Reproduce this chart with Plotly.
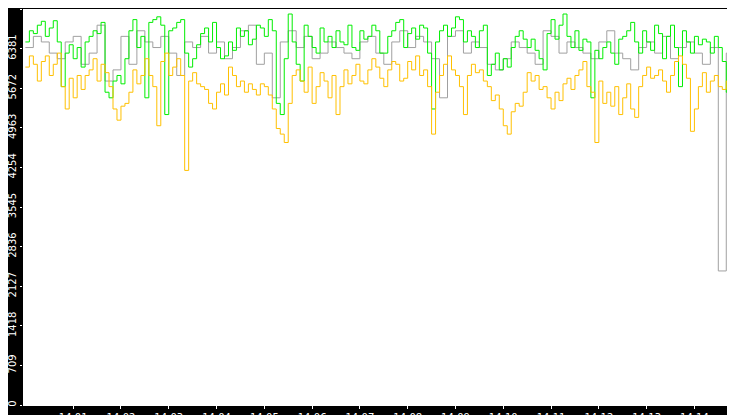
import pandas as pd
import plotly.graph_objects as go

green = [
    6500, 6700, 6650, 6800, 6870, 6600, 6750, 6880, 6500, 5700,
    6300, 6450, 6200, 6400, 6050, 6500, 6600, 6700, 6650, 6850,
    5600, 5500, 5800, 5900, 5750, 6200, 6700, 6900, 6400, 6600,
    5500, 6850, 6900, 6950, 6800, 5200, 6700, 6750, 6850, 6900,
    6300, 6050, 6200, 6450, 6650, 6750, 6500, 6850, 6400, 6200,
    6250, 6500, 6350, 6750, 6600, 6700, 6450, 6550, 6800, 6750,
    6600, 6900, 6700, 5400, 5200, 6200, 7000, 6500, 6100, 5800,
    6800, 6600, 6400, 6300, 6750, 6500, 6600, 6400, 6700, 6500,
    6450, 6800, 6400, 6350, 6700, 6550, 6600, 6800, 6700, 6300,
    6300, 6600, 6700, 6850, 6900, 6400, 6650, 6750, 6550, 6800,
    6750, 6300, 5300, 6500, 6700, 6800, 6600, 6750, 6950, 6900,
    6500, 6700, 6600, 6400, 6700, 6800, 5900, 6100, 6300, 6000,
    6200, 6050, 6400, 6600, 6700, 6550, 6400, 6550, 6350, 6200,
    6000, 6650, 6900, 6550, 6800, 7000, 6600, 6400, 6700, 6350,
    6550, 6500, 5500, 6350, 6200, 6400, 6500, 6300, 6100, 6550,
    6600, 6700, 6850, 6500, 6300, 6700, 6500, 6350, 6800, 6650,
    6200, 6600, 6800, 6400, 5700, 6700, 6500, 6300, 6600, 6450,
    6550, 6500, 6300, 6600, 6400, 6150, 5600, 6700, 6550, 6300,
    2980,
]
orange = [
    6050, 6250, 6100, 5800, 6150, 6250, 5900, 6100, 6300, 5700,
    5300, 5850, 5500, 5900, 5650, 5900, 6000, 6200, 5800, 6100,
    5950, 5700, 5300, 5100, 5350, 5400, 5600, 6000, 5750, 5900,
    6200, 5900, 5700, 5000, 6150, 6300, 5900, 6050, 6200, 5900,
    4200, 5800, 5950, 5750, 5700, 5650, 5400, 5300, 5600, 5750,
    5550, 6050, 5900, 5700, 5800, 5600, 5750, 5650, 5550, 5750,
    5700, 5550, 5300, 4950, 4850, 4700, 5400, 5900, 6000, 5800,
    5600, 6050, 5400, 5700, 5950, 5800, 5500, 5900, 5200, 5700,
    6000, 5750, 5900, 6100, 5800, 5750, 6000, 6200, 6050, 5850,
    5700, 6000, 6150, 6100, 5800, 5850, 6150, 6000, 6250, 5900,
    6000, 5700, 4850, 5600, 5900, 6100, 6250, 6000, 5900, 5700,
    5200, 5900, 6100, 5950, 6000, 5800, 5700, 5450, 5550, 5300,
    5000, 4850, 5250, 5400, 5350, 5600, 5950, 5800, 5900, 5650,
    5700, 5500, 5300, 5600, 5450, 5750, 5850, 5650, 5900, 6000,
    6150, 5700, 5600, 4700, 5800, 5400, 5600, 5350, 5700, 5200,
    5500, 5750, 5300, 5150, 5700, 5900, 6050, 5850, 5900, 6000,
    5800, 5600, 5900, 6150, 6250, 6100, 5850, 4900, 5300, 5700,
    5950, 5600, 5800, 5900, 5700, 5650, 5800, 4230, 5900, 5800,
    0,
]
gray = [
    6400, 6600, 6500, 6300, 6200, 6500, 6600, 6100, 6300, 6800,
    5800, 6000, 6600, 6100, 6700, 6500, 6400, 6600, 6300, 5900,
    6500, 6400, 6600, 6300, 6500, 6200, 6400, 6700, 6800, 6100,
    6300, 5500, 6500, 6700, 6400, 6600, 6200, 6300, 6500, 6400,
    6300, 6200, 6500, 6600, 6300, 6100, 6500, 6700, 6400, 6600,
    6500, 6200, 5500, 6600, 6700, 6300, 6500, 6400, 6100, 6000,
    6200, 6500, 6400, 6300, 6100, 6700, 6600, 6300, 6500, 6400,
    6300, 6200, 6500, 6700, 6300, 6200, 6000, 6400, 6500, 6300,
    6600, 6200, 6400, 6500, 6300, 6100, 6400, 2400, 6300, 6500, 5600,
]
y_ticks = [0, 709, 1418, 2127, 2836, 3545, 4254, 4963, 5672, 6381, 7090]
x_ticks = pd.date_range("2024-01-01 14:01:00", "2024-01-01 14:14:00", freq="1min")

t5 = pd.date_range("2024-01-01 14:00:00", periods=len(green), freq="5s")
t10 = pd.date_range("2024-01-01 14:00:00", periods=len(gray), freq="10s")

fig = go.Figure()
fig.add_trace(go.Scatter(x=t10, y=gray, mode="lines", line=dict(color="#a0a0a0", width=1, shape="hv")))
fig.add_trace(go.Scatter(x=t5, y=green, mode="lines", line=dict(color="#00ee00", width=1, shape="hv")))
fig.add_trace(go.Scatter(x=t5, y=orange, mode="lines", line=dict(color="#ffc000", width=1, shape="hv")))

fig.update_layout(
    width=735, height=415, showlegend=False,
    paper_bgcolor="black", plot_bgcolor="white",
    margin=dict(l=15, r=0, t=1, b=18),
    font=dict(family="DejaVu Sans", size=10, color="white"),
)
fig.update_xaxes(range=["2024-01-01 13:59:57", "2024-01-01 14:15:01"], tickvals=x_ticks,
                 tickformat="%H:%M", ticks="outside", ticklen=3, tickcolor="white",
                 showgrid=False, showline=True, linecolor="white", zeroline=False,
                 automargin=False)
fig.update_yaxes(range=[0, 7090], tickvals=y_ticks, tickangle=-90, ticks="outside", ticklen=2,
                 tickcolor="white", showgrid=False, zeroline=False, automargin=False)

fig.write_html("out.html")
